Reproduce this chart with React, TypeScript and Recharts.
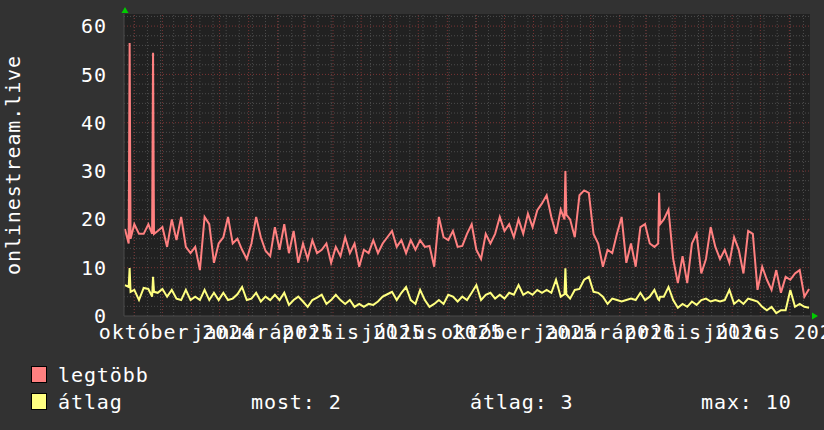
import React from 'react'
import { LineChart, Line, XAxis, YAxis, CartesianGrid, ReferenceLine, Label } from 'recharts'

// rrdtool-style dark graph: daily max and average of onlinestream.live

const FONT = '"DejaVu Sans Mono", monospace'
const DAY = 86400000
const utc = (s: string) => Date.parse(s + 'T00:00:00Z')

// samples every 5 days, starting here
const firstSample = '2024-08-22'
const sampleStepDays = 5

// legtöbb (max)
const maxValues = [
  18, 56.5, 19, 17, 17, 19, 54.5, 17.6, 18.4, 14.3,
  20, 15.7, 20.5, 14.3, 13, 14.3, 9.5, 20.5, 19, 11,
  15, 16.3, 20.5, 15, 16, 13.7, 11.8, 15, 20.5, 16.3,
  13.5, 12.4, 18.4, 13.7, 19, 13, 17.6, 11, 15, 11.8,
  15.7, 13, 13.7, 15, 11, 14.3, 12.4, 16.3, 13, 15,
  10.2, 13.7, 13, 15.7, 13, 15, 16.3, 17.6, 14.3, 15.7,
  13, 15.7, 13.7, 15.7, 14.3, 14.5, 10.2, 20.5, 16.3, 15.7,
  17.6, 14.3, 14.5, 17, 19, 13.7, 11.8, 17, 15, 17,
  20.5, 17.6, 19, 16.3, 20, 17, 21.2, 18.4, 21.9, 23.3,
  25, 20.5, 17, 22, 30, 20, 16.3, 25, 26, 25.5,
  17, 15, 10.2, 13.7, 13, 17, 20.5, 11, 15, 10.2,
  18.4, 19, 15, 14.3, 25.5, 20, 22, 11.8, 6.8, 12.4,
  6.8, 15, 17, 8.8, 11.8, 18.4, 14.3, 11.8, 13.7, 11,
  16.3, 13.7, 8.8, 17.6, 17, 5.4, 10.2, 7.5, 5.4, 9.5,
  4.8, 8.1, 7.5, 8.8, 9.5, 4, 5.6,
]

// átlag (average)
const avgValues = [
  6.4, 9.9, 5.4, 3.3, 5.8, 5.6, 8.1, 4.8, 5.6, 4,
  5.4, 3.6, 3.3, 5.4, 3.3, 4, 3.3, 5.4, 3.3, 4.8,
  3.3, 4.8, 3.3, 3.6, 4.5, 6, 3.3, 3.6, 4.8, 3,
  4, 3.3, 4.4, 3.3, 4.8, 2.3, 3.3, 4, 3, 1.9,
  3.3, 3.8, 4.4, 2.5, 3.3, 4.4, 3.3, 2.5, 3.3, 1.9,
  2.5, 1.9, 2.5, 2.3, 3, 4, 4.5, 5, 3.3, 4.8,
  6, 3.3, 2.5, 5.4, 3.3, 1.9, 2.5, 3.3, 2.5, 4.4,
  4, 3, 4, 3.3, 4.8, 6.4, 3.3, 4.4, 4.8, 3.6,
  4.4, 3.6, 4.8, 4.4, 6.4, 4.4, 5, 4.4, 5.4, 4.8,
  5.4, 4.8, 7.5, 4, 9.9, 3.6, 5.4, 5.6, 7.5, 8.1,
  5, 4.8, 4, 2.5, 3.6, 3.3, 3, 3.3, 3.6, 3.3,
  4.8, 3.3, 4, 5.4, 3.3, 4, 6, 3.3, 1.7, 2.5,
  1.9, 3, 2.3, 3.3, 3.6, 3, 3.3, 3, 3.3, 5.4,
  2.5, 3.3, 2.5, 3.6, 3.3, 3, 1.9, 1.2, 1.9, 0.6,
  1.2, 1.2, 5.4, 1.9, 2.5, 1.9, 1.7,
]

// extra daily samples either side of the one-day spikes (days after firstSample)
const shoulderDays = [4, 6, 29, 31, 469, 471, 569, 571]
const shoulderMax = [15, 16, 17, 17, 20, 21, 15, 19]
const shoulderAvg = [6, 5, 4, 5, 4.5, 4.5, 3.5, 4]

// x labels, centred mid-month like rrdtool does
const tickDates = ['2024-10-16', '2025-01-16', '2025-04-16', '2025-07-16', '2025-10-16', '2026-01-16', '2026-04-16', '2026-07-16']
const tickMonths = ['október', 'január', 'április', 'július', 'október', 'január', 'április', 'július']
const tickYears = ['2024', '2025', '2025', '2025', '2025', '2026', '2026', '2026']

const yTicks = [0, 10, 20, 30, 40, 50, 60]

const domainStart = utc('2024-08-21')
const domainEnd = utc('2026-08-23')

const rows = [
  ...maxValues.map((v, i) => ({
    t: utc(firstSample) + i * sampleStepDays * DAY,
    max: v,
    avg: avgValues[i],
  })),
  ...shoulderDays.map((d, i) => ({
    t: utc(firstSample) + d * DAY,
    max: shoulderMax[i],
    avg: shoulderAvg[i],
  })),
].sort((a, b) => a.t - b.t)

// grid: month starts are major, every second Sunday minor
const monthLines: number[] = []
for (let y = 2024, m = 8; y * 12 + m <= 2026 * 12 + 7; m++) {
  if (m > 11) { m = 0; y++ }
  monthLines.push(Date.UTC(y, m, 1))
}
const minorVLines: number[] = []
for (let t = utc('2024-09-01'); t < domainEnd; t += 14 * DAY) minorVLines.push(t)
const minorHLines: number[] = []
for (let v = 2; v <= 62; v += 2) if (v % 10 !== 0) minorHLines.push(v)

const MINOR = '#4c4c4c'
const MAJOR = '#7a3434'
const textStyle = { fontFamily: FONT, fontSize: 20, letterSpacing: 0.9, fill: '#ffffff' }

const MonthTick = (props: any) => {
  const { x, y, index } = props
  return (
    <text x={x} y={y} dy={15} textAnchor="middle" {...textStyle}>
      {`${tickMonths[index]} ${tickYears[index]}`}
    </text>
  )
}

export default function App() {
  return (
    <div style={{ position: 'relative', width: 824, height: 430, background: '#323232', overflow: 'hidden' }}>
      <style>{'body{margin:0}'}</style>
      <LineChart width={824} height={350} data={rows} margin={{ top: 14, right: 14, bottom: 0, left: 0 }}>
        <CartesianGrid horizontal={false} vertical={false} fill="#212121" stroke="none" />
        {minorHLines.map((v) => (
          <ReferenceLine key={`h${v}`} y={v} stroke={MINOR} strokeDasharray="1 2" />
        ))}
        {minorVLines.map((t) => (
          <ReferenceLine key={`v${t}`} x={t} stroke={MINOR} strokeDasharray="1 2" />
        ))}
        {yTicks.slice(1).map((v) => (
          <ReferenceLine key={`H${v}`} y={v} stroke={MAJOR} strokeDasharray="1 2" />
        ))}
        {monthLines.map((t) => (
          <ReferenceLine key={`V${t}`} x={t} stroke={MAJOR} strokeDasharray="1 2" />
        ))}
        <XAxis
          dataKey="t"
          type="number"
          domain={[domainStart, domainEnd]}
          allowDataOverflow
          ticks={tickDates.map(utc)}
          interval={0}
          tick={<MonthTick />}
          tickLine={false}
          tickSize={0}
          tickMargin={8}
          height={34}
          axisLine={{ stroke: '#4a4a4a' }}
        />
        <YAxis
          type="number"
          domain={[0, 62.5]}
          allowDataOverflow
          ticks={yTicks}
          interval={0}
          width={124}
          tickLine={false}
          tickSize={0}
          tickMargin={17}
          tick={textStyle}
          axisLine={{ stroke: '#4a4a4a' }}
        >
          <Label
            content={() => (
              <text x={19.5} y={165} transform="rotate(-90 19.5 165)" textAnchor="middle" {...textStyle}>
                onlinestream.live
              </text>
            )}
          />
        </YAxis>
        <Line type="linear" dataKey="max" stroke="#ff8080" strokeWidth={2} dot={false} isAnimationActive={false} />
        <Line type="linear" dataKey="avg" stroke="#ffff80" strokeWidth={2} dot={false} isAnimationActive={false} />
      </LineChart>
      <svg width={824} height={430} style={{ position: 'absolute', left: 0, top: 0, pointerEvents: 'none' }}>
        <polygon points="121.5,13 128.5,13 125,7" fill="#00cc00" />
        <polygon points="812,312.5 812,319.5 818,316" fill="#00cc00" />
        <rect x={31.5} y={366.5} width={15} height={16} fill="#ff8080" stroke="#000" />
        <rect x={31.5} y={393.5} width={15} height={16} fill="#ffff80" stroke="#000" />
        <text x={58} y={382} {...textStyle}>legtöbb</text>
        <text x={58} y={409} {...textStyle}>átlag</text>
        <text x={251} y={409} {...textStyle}>most: 2</text>
        <text x={470} y={409} {...textStyle}>átlag: 3</text>
        <text x={701} y={409} {...textStyle}>max: 10</text>
      </svg>
    </div>
  )
}
